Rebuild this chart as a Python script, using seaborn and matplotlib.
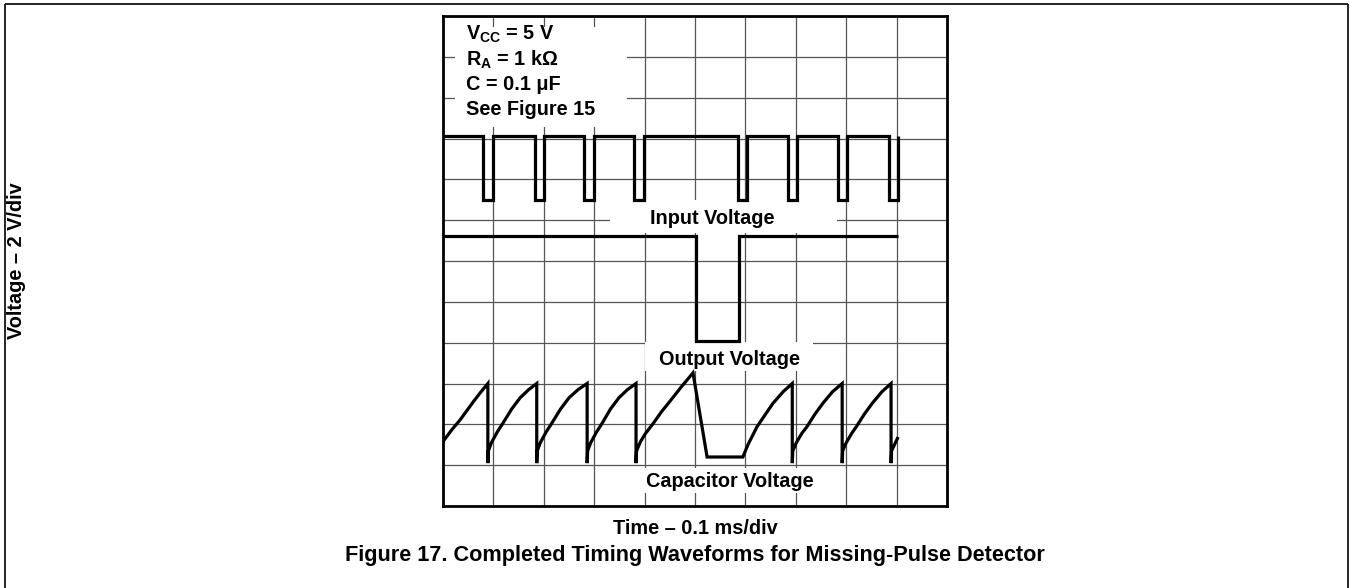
import matplotlib
matplotlib.use('Agg')
import matplotlib.pyplot as plt
import seaborn as sns
import pandas as pd
from matplotlib.patches import Rectangle
from matplotlib.lines import Line2D

in_high = 9.05
in_low = 7.5
in_start = 0.0
in_end = 9.03
in_pulse_fall = [0.79, 1.83, 2.80, 3.79, 5.85, 6.85, 7.84, 8.85]
in_pulse_rise = [0.99, 2.00, 3.00, 3.99, 6.03, 7.02, 8.02, 9.03]

out_high = 6.62
out_low = 4.04
out_fall = 5.02
out_rise = 5.87
out_end = 9.03

cap_time = [0.00, 0.17, 0.34, 0.60, 0.75, 0.89, 0.89,
            0.90, 0.96, 1.08, 1.19, 1.36, 1.53, 1.70, 1.86, 1.86,
            1.87, 1.93, 2.05, 2.16, 2.33, 2.50, 2.68, 2.86, 2.86,
            2.87, 2.93, 3.05, 3.16, 3.32, 3.49, 3.66, 3.83, 3.83,
            3.84, 3.92, 4.02, 4.17, 4.33, 4.50, 4.73, 4.96, 5.24, 5.95,
            6.05, 6.23, 6.40, 6.55, 6.75, 6.93, 6.93,
            6.94, 7.01, 7.12, 7.22, 7.38, 7.54, 7.73, 7.92, 7.92,
            7.93, 8.00, 8.11, 8.20, 8.36, 8.52, 8.71, 8.89, 8.89,
            8.90, 9.03]
cap_volt = [1.58, 1.86, 2.11, 2.55, 2.79, 3.00, 1.05,
            1.35, 1.55, 1.82, 2.03, 2.37, 2.65, 2.85, 3.00, 1.05,
            1.35, 1.55, 1.82, 2.03, 2.37, 2.65, 2.85, 3.00, 1.05,
            1.35, 1.55, 1.82, 2.03, 2.37, 2.65, 2.85, 3.00, 1.05,
            1.35, 1.58, 1.78, 2.02, 2.30, 2.56, 2.92, 3.26, 1.20, 1.20,
            1.50, 1.94, 2.25, 2.52, 2.80, 3.00, 1.05,
            1.35, 1.55, 1.78, 1.94, 2.25, 2.52, 2.80, 3.00, 1.05,
            1.35, 1.55, 1.78, 1.94, 2.25, 2.52, 2.80, 3.00, 1.05,
            1.35, 1.69]

n_xdiv = 10
n_ydiv = 12

# Construction des traces en créneaux
in_t = [in_start]
in_v = [in_high]
for f, r in zip(in_pulse_fall, in_pulse_rise):
    in_t += [f, f, r, r]
    in_v += [in_high, in_low, in_low, in_high]
if in_t[-1] < in_end:
    in_t.append(in_end)
    in_v.append(in_high)

out_t = [0.0, out_fall, out_fall, out_rise, out_rise, out_end]
out_v = [out_high, out_high, out_low, out_low, out_high, out_high]

df_in = pd.DataFrame({'t': in_t, 'v': in_v})
df_out = pd.DataFrame({'t': out_t, 'v': out_v})
df_cap = pd.DataFrame({'t': cap_time, 'v': cap_volt})

sns.set_theme(style='white')
plt.rcParams['font.family'] = ['Liberation Sans', 'DejaVu Sans']
plt.rcParams['font.weight'] = 'bold'
plt.rcParams['text.color'] = 'black'
plt.rcParams['lines.solid_joinstyle'] = 'miter'
plt.rcParams['lines.solid_capstyle'] = 'butt'
plt.rcParams['mathtext.fontset'] = 'custom'
plt.rcParams['mathtext.rm'] = 'Liberation Sans:bold'
plt.rcParams['mathtext.bf'] = 'Liberation Sans:bold'
plt.rcParams['mathtext.it'] = 'Liberation Sans:bold'

fig = plt.figure(figsize=(13.5, 5.88), dpi=100)
ax = fig.add_axes([443 / 1350, 1 - 506 / 588, 504 / 1350, 490 / 588])

ax.set_xlim(0, n_xdiv)
ax.set_ylim(0, n_ydiv)
ax.set_xticks(range(n_xdiv + 1))
ax.set_yticks(range(n_ydiv + 1))
ax.tick_params(length=0, labelbottom=False, labelleft=False)
ax.grid(True, color='#555555', linewidth=0.9, zorder=0)
ax.set_axisbelow(True)
for sp in ax.spines.values():
    sp.set_color('black')
    sp.set_linewidth(2.0)

# Cadres blancs qui masquent la grille derrière les textes
boxes = [(0.24, 9.29, 3.41, 2.45), (3.31, 6.69, 4.51, 0.81),
         (4.0, 3.30, 3.35, 0.72), (3.85, 0.32, 3.85, 0.61)]
for bx, by, bw, bh in boxes:
    ax.add_patch(Rectangle((bx, by), bw, bh, facecolor='white',
                           edgecolor='none', zorder=1))

lw = 2.3
for d in [df_in, df_out, df_cap]:
    sns.lineplot(data=d, x='t', y='v', sort=False, estimator=None,
                 color='black', linewidth=lw, ax=ax, zorder=3)
ax.set_xlabel('')
ax.set_ylabel('')

fs = 14.3
params = [r'V$_{\mathbf{CC}}$ = 5 V', r'R$_{\mathbf{A}}$ = 1 kΩ',
          'C = 0.1 μF', 'See Figure 15']
for txt, yb in zip(params, [11.42, 10.78, 10.18, 9.58]):
    ax.text(0.46, yb, txt, fontsize=fs, fontweight='bold', va='baseline',
            ha='left', zorder=4)

ax.text(5.34, 6.90, 'Input Voltage', fontsize=fs, fontweight='bold',
        ha='center', va='baseline', zorder=4)
ax.text(5.69, 3.45, 'Output Voltage', fontsize=fs, fontweight='bold',
        ha='center', va='baseline', zorder=4)
ax.text(5.69, 0.47, 'Capacitor Voltage', fontsize=fs, fontweight='bold',
        ha='center', va='baseline', zorder=4)

fig.text(17 / 1350, 1 - 261 / 588, 'Voltage – 2 V/div', rotation=90,
         fontsize=fs, fontweight='bold', ha='center', va='center')
fig.text(695 / 1350, 1 - 529 / 588, 'Time – 0.1 ms/div', fontsize=fs,
         fontweight='bold', ha='center', va='center')
fig.text(695 / 1350, 1 - 556 / 588,
         'Figure 17. Completed Timing Waveforms for Missing-Pulse Detector',
         fontsize=15.6, fontweight='bold', ha='center', va='center')

# Cadre de la page
x0, x1, y0 = 5 / 1350, 1348 / 1350, 1 - 4 / 588
for xs, ys in [([x0, x1], [y0, y0]), ([x0, x0], [y0, 0]), ([x1, x1], [y0, 0])]:
    fig.add_artist(Line2D(xs, ys, transform=fig.transFigure,
                          color='black', linewidth=1.2))

fig.savefig('out.png', dpi=100)
